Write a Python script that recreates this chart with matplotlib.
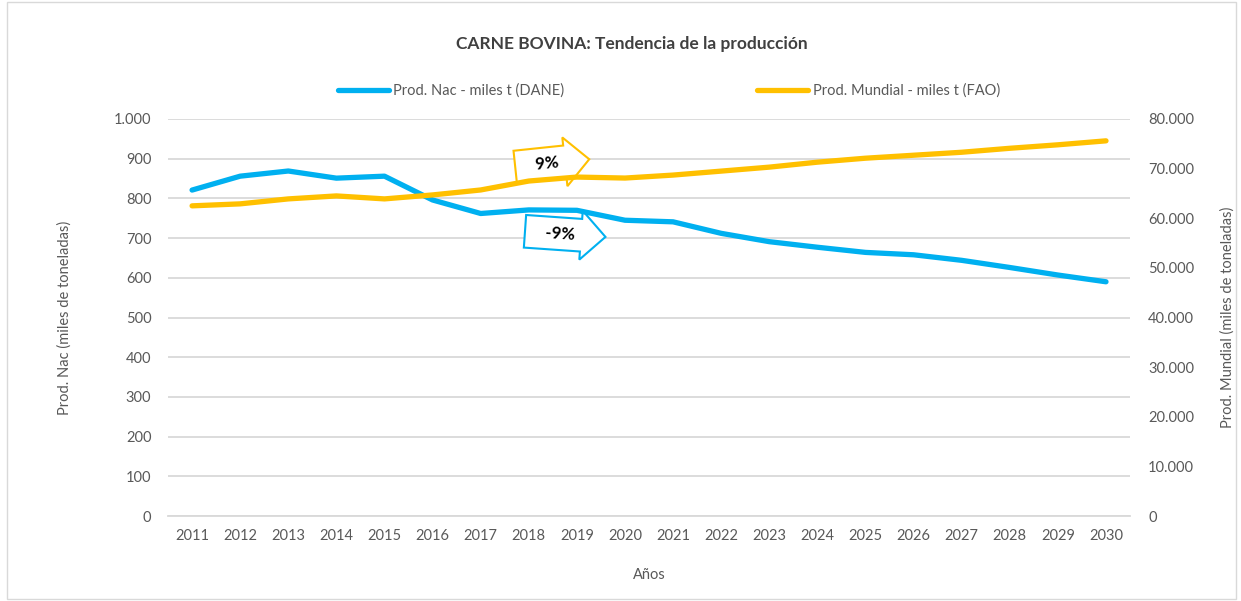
import matplotlib
matplotlib.use("Agg")
import matplotlib.pyplot as plt
from matplotlib.patches import Rectangle
from matplotlib.ticker import FuncFormatter

plt.rcParams['font.family'] = ['Lato', 'DejaVu Sans']

# series
years = list(range(2011, 2031))
prod_nac = [821, 856, 869, 851, 856, 796, 762, 771, 770, 745,
            741, 712, 691, 677, 664, 658, 644, 626, 607, 590]
prod_mundial = [62500, 62900, 63900, 64500, 63900, 64700, 65700, 67500, 68300, 68100,
                68700, 69500, 70300, 71300, 72100, 72700, 73300, 74100, 74800, 75600]

left_ticks = [0, 100, 200, 300, 400, 500, 600, 700, 800, 900, 1000]
right_ticks = [0, 10000, 20000, 30000, 40000, 50000, 60000, 70000, 80000]

BLUE = "#00B0F0"
GOLD = "#FFC000"
GRAY = "#595959"


def miles(v, pos=None):
    return f"{int(v):,}".replace(",", ".")


fig = plt.figure(figsize=(12.41, 6.01), dpi=100)
fig.patches.append(Rectangle((0.006, 0.004), 0.99, 0.992, transform=fig.transFigure,
                             fill=False, ec="#D9D9D9", lw=1))

ax = fig.add_axes([0.1354, 0.1414, 0.7752, 0.6606])
ax2 = ax.twinx()

ax.set_xlim(2010.5, 2030.5)
ax.set_ylim(0, 1000)
ax2.set_ylim(0, 80000)
ax.set_yticks(left_ticks)
ax2.set_yticks(right_ticks)
ax.set_xticks(years)
ax.yaxis.set_major_formatter(FuncFormatter(miles))
ax2.yaxis.set_major_formatter(FuncFormatter(miles))

ax.grid(axis="y", color="#D9D9D9", lw=1.3)
ax.set_axisbelow(True)
for a in (ax, ax2):
    for s in a.spines.values():
        s.set_visible(False)
    a.tick_params(length=0, labelsize=10.5, colors=GRAY)
ax.spines["bottom"].set_visible(True)
ax.spines["bottom"].set_color("#D9D9D9")
ax.spines["bottom"].set_linewidth(1.3)
ax.tick_params(axis="y", pad=12)
ax.tick_params(axis="x", pad=9)
ax2.tick_params(axis="y", pad=13)

l1, = ax.plot(years, prod_nac, color=BLUE, lw=3.8, solid_capstyle="round",
              solid_joinstyle="round", zorder=4, label="Prod. Nac - miles t (DANE)")
l2, = ax2.plot(years, prod_mundial, color=GOLD, lw=3.8, solid_capstyle="round",
               solid_joinstyle="round", zorder=4, label="Prod. Mundial - miles t (FAO)")

ax.set_ylabel("Prod. Nac (miles de toneladas)", color=GRAY, fontsize=10.5, labelpad=30)
ax2.set_ylabel("Prod. Mundial (miles de toneladas)", color=GRAY, fontsize=10.5,
               rotation=90, labelpad=19)
ax.set_xlabel("Años", color=GRAY, fontsize=10.5, labelpad=18)

fig.text(0.509, 0.926, "CARNE BOVINA: Tendencia de la producción", ha="center",
         va="center", fontsize=12.5, fontweight="bold", color="#404040")

fig.legend(handles=[l1, l2], loc="center", bbox_to_anchor=(0.539, 0.849), ncol=2,
           frameon=False, fontsize=10.5, handlelength=3.5, handletextpad=0.3,
           columnspacing=13.2, labelcolor=GRAY)

# trend callouts, each sitting just under its own line
ax2.text(2018.38, 71000, "   9%   ", ha="center", va="center", fontsize=12,
         fontweight="bold", rotation=6, zorder=3,
         bbox=dict(boxstyle="rarrow,pad=0.5", fc="white", ec=GOLD, lw=1.5))
ax.text(2018.65, 711, "   -9%   ", ha="center", va="center", fontsize=12,
        fontweight="bold", rotation=-4, zorder=3,
        bbox=dict(boxstyle="rarrow,pad=0.5", fc="white", ec=BLUE, lw=1.5))

fig.savefig("out.png", dpi=100)
